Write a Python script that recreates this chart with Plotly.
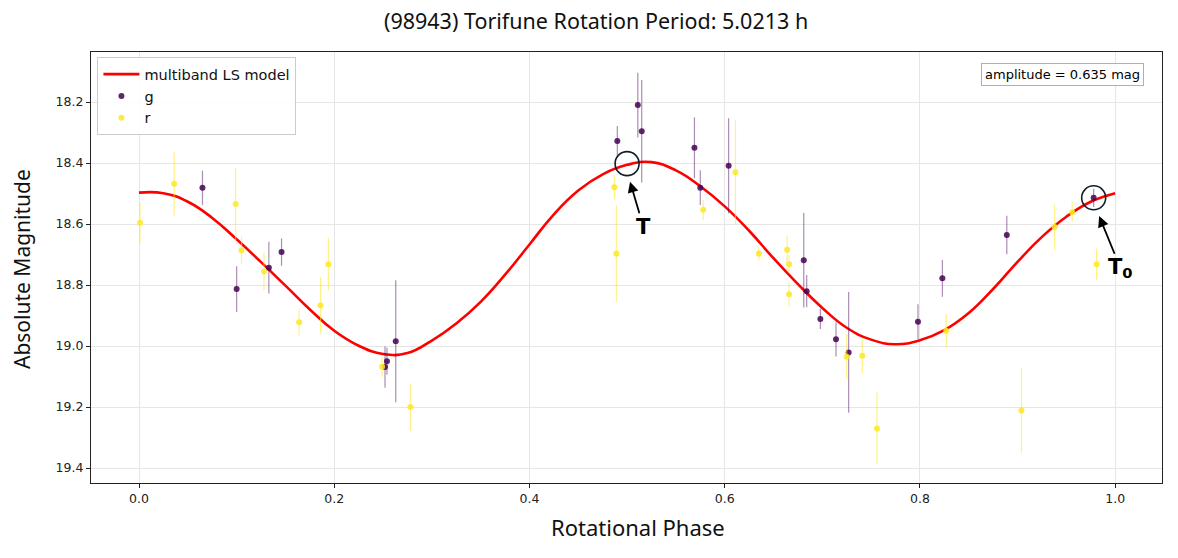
import plotly.graph_objects as go

# ---------------- data ----------------
model_phase = [0.000, 0.025, 0.050, 0.075, 0.100, 0.125, 0.150, 0.175, 0.200, 0.225,
               0.250, 0.275, 0.300, 0.325, 0.350, 0.375, 0.400, 0.425, 0.450, 0.475,
               0.500, 0.525, 0.550, 0.575, 0.600, 0.625, 0.650, 0.675, 0.700, 0.725,
               0.750, 0.775, 0.800, 0.825, 0.850, 0.875, 0.900, 0.925, 0.950, 0.975, 1.000]
model_mag = [18.497, 18.499, 18.527, 18.580, 18.650, 18.725, 18.802, 18.880, 18.950, 18.999,
             19.026, 19.023, 18.982, 18.926, 18.855, 18.766, 18.667, 18.568, 18.490, 18.437,
             18.406, 18.397, 18.424, 18.476, 18.542, 18.622, 18.712, 18.797, 18.875, 18.940,
             18.979, 18.994, 18.981, 18.948, 18.892, 18.813, 18.724, 18.642, 18.576, 18.527, 18.499]

g_phase = [0.065, 0.100, 0.133, 0.146, 0.252, 0.254, 0.263, 0.490, 0.511, 0.515, 0.569,
           0.575, 0.604, 0.681, 0.684, 0.698, 0.714, 0.727, 0.798, 0.823, 0.889, 0.978]
g_mag = [18.481, 18.813, 18.743, 18.692, 19.069, 19.050, 18.984, 18.328, 18.210, 18.296, 18.350,
         18.481, 18.409, 18.719, 18.820, 18.911, 18.978, 19.021, 18.920, 18.778, 18.636, 18.514]
g_err = [0.056, 0.075, 0.085, 0.045, 0.068, 0.044, 0.200, 0.049, 0.106, 0.168, 0.100,
         0.057, 0.156, 0.155, 0.053, 0.033, 0.056, 0.198, 0.057, 0.060, 0.063, 0.030]

r_phase = [0.001, 0.036, 0.099, 0.105, 0.128, 0.164, 0.186, 0.194, 0.249, 0.278, 0.487, 0.489,
           0.578, 0.611, 0.635, 0.664, 0.666, 0.666, 0.725, 0.741, 0.756, 0.827, 0.904, 0.938,
           0.956, 0.981]
r_mag = [18.596, 18.468, 18.534, 18.686, 18.756, 18.922, 18.867, 18.732, 19.068, 19.200, 18.479, 18.697,
         18.553, 18.430, 18.697, 18.684, 18.732, 18.830, 19.035, 19.032, 19.270, 18.950, 19.211, 18.610,
         18.561, 18.732]
r_err = [0.067, 0.104, 0.118, 0.045, 0.062, 0.043, 0.093, 0.086, 0.033, 0.078, 0.040, 0.159,
         0.033, 0.170, 0.022, 0.045, 0.030, 0.041, 0.074, 0.056, 0.118, 0.056, 0.139, 0.074,
         0.033, 0.051]

period_h = 5.0213
amplitude = 0.635
x_ticks = [0.0, 0.2, 0.4, 0.6, 0.8, 1.0]
y_ticks = [18.2, 18.4, 18.6, 18.8, 19.0, 19.2, 19.4]

# ---------------- figure ----------------
G_COL = "#440154"
R_COL = "#fde725"

fig = go.Figure()
fig.add_trace(go.Scatter(
    x=model_phase, y=model_mag, mode="lines", name="multiband LS model",
    line=dict(color="#ff0000", width=2.6, shape="spline", smoothing=1.3),
))
fig.add_trace(go.Scatter(
    x=g_phase, y=g_mag, mode="markers", name="g",
    marker=dict(color=G_COL, size=6, opacity=0.85),
    error_y=dict(type="data", array=g_err, visible=True, color="rgba(68,1,84,0.45)",
                 thickness=1.2, width=0),
))
fig.add_trace(go.Scatter(
    x=r_phase, y=r_mag, mode="markers", name="r",
    marker=dict(color=R_COL, size=6, opacity=0.85),
    error_y=dict(type="data", array=r_err, visible=True, color="rgba(253,231,37,0.55)",
                 thickness=1.2, width=0),
))

# circles marking T and T0
for cx, cy in [(0.500, 18.402), (0.978, 18.514)]:
    fig.add_shape(type="circle", xref="x", yref="y", xsizemode="pixel", ysizemode="pixel",
                  xanchor=cx, yanchor=cy, x0=-12, x1=12, y0=-12, y1=12,
                  line=dict(color="#0f1f2a", width=1.6))

# labelled arrows (arrow tip at x/y, label centred at ax/ay)
fig.add_annotation(x=0.503, y=18.461, ax=0.5167, ay=18.609, axref="x", ayref="y",
                   xref="x", yref="y", text="<b>T</b>", showarrow=True, arrowhead=2,
                   arrowsize=1.2, arrowwidth=1.8, arrowcolor="black", standoff=0,
                   font=dict(family="DejaVu Sans", size=21, color="black"))
fig.add_annotation(x=0.9836, y=18.574, ax=1.0055, ay=18.745, axref="x", ayref="y",
                   xref="x", yref="y", text="<b>T<sub>0</sub></b>", showarrow=True, arrowhead=2,
                   arrowsize=1.2, arrowwidth=1.8, arrowcolor="black", standoff=0,
                   font=dict(family="DejaVu Sans", size=21, color="black"))

# amplitude box
fig.add_annotation(x=0.983, y=0.947, xref="paper", yref="paper", xanchor="right", yanchor="middle",
                   text=f"amplitude = {amplitude:.3f} mag", showarrow=False,
                   font=dict(family="DejaVu Sans", size=13, color="black"),
                   bordercolor="#b0b0b0", borderwidth=1, borderpad=3, bgcolor="white")

# axis titles
fig.add_annotation(x=0.5107, y=-0.102, xref="paper", yref="paper", xanchor="center",
                   yanchor="middle", text="Rotational Phase", showarrow=False,
                   font=dict(family="Noto Sans", size=22, color="#111"))
fig.add_annotation(x=-0.0644, y=0.4965, xref="paper", yref="paper", xanchor="center",
                   yanchor="middle", text="Absolute Magnitude", showarrow=False, textangle=-90,
                   font=dict(family="Noto Sans", size=21, color="#111"))

axis_common = dict(showline=True, linecolor="#222", linewidth=1.2, mirror=True,
                   ticks="outside", ticklen=4, tickcolor="#222",
                   showgrid=True, gridcolor="#e6e6e6", gridwidth=1, zeroline=False,
                   tickfont=dict(family="DejaVu Sans", size=12.5, color="#222"))

fig.update_layout(
    width=1178, height=558,
    margin=dict(l=91, r=16, t=52, b=75),
    paper_bgcolor="white", plot_bgcolor="white",
    title=dict(text=f"(98943) Torifune Rotation Period: {period_h} h",
               x=0.506, xanchor="center", y=0.962, yanchor="middle",
               font=dict(family="Noto Sans", size=21.5, color="#111")),
    xaxis=dict(range=[-0.0492, 1.048], tickvals=x_ticks,
               ticktext=[f"{v:.1f}" for v in x_ticks], **axis_common),
    yaxis=dict(range=[19.449, 18.036], tickvals=y_ticks,
               ticktext=[f"{v:.1f}" for v in y_ticks], **axis_common),
    legend=dict(x=0.006, y=0.988, xanchor="left", yanchor="top",
                bgcolor="rgba(255,255,255,0.85)", bordercolor="#cccccc", borderwidth=1,
                font=dict(family="DejaVu Sans", size=14.5, color="#111"),
                tracegroupgap=0, itemwidth=36),
    showlegend=True,
)

fig.write_html("out.html")
